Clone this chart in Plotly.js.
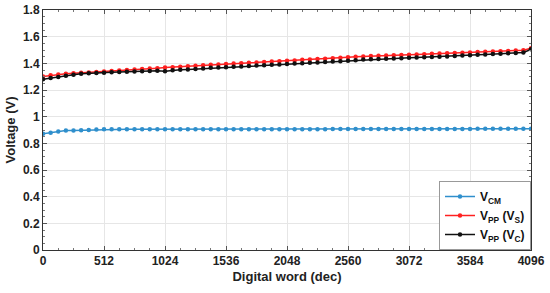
<!DOCTYPE html>
<html>
<head>
<meta charset="utf-8">
<script src="https://cdn.plot.ly/plotly-3.0.1.min.js"></script>
<style>
  html, body { margin: 0; padding: 0; background: #fff; }
  #chart { width: 550px; height: 293px; }
</style>
</head>
<body>
<div id="chart"></div>
<script>
// digital word, one point every 64 codes
var codes = [];
for (var i = 0; i <= 64; i++) codes.push(i * 64);

var vcm = [0.872, 0.880, 0.889, 0.897, 0.896, 0.898, 0.900, 0.903, 0.905, 0.905,
           0.906, 0.906, 0.906, 0.906, 0.906, 0.905, 0.905, 0.905, 0.905, 0.905,
           0.905, 0.905, 0.905, 0.905, 0.905, 0.905, 0.906, 0.906, 0.906, 0.906,
           0.906, 0.906, 0.906, 0.906, 0.906, 0.906, 0.906, 0.906, 0.907, 0.907,
           0.907, 0.907, 0.907, 0.907, 0.907, 0.907, 0.907, 0.907, 0.907, 0.908,
           0.908, 0.908, 0.908, 0.908, 0.908, 0.908, 0.908, 0.909, 0.909, 0.909,
           0.909, 0.909, 0.909, 0.909, 0.910];

var vppS = [1.302, 1.310, 1.316, 1.322, 1.326, 1.329, 1.332, 1.335, 1.338, 1.342,
            1.346, 1.350, 1.353, 1.357, 1.361, 1.364, 1.368, 1.371, 1.375, 1.379,
            1.382, 1.386, 1.389, 1.392, 1.395, 1.398, 1.401, 1.404, 1.407, 1.410,
            1.413, 1.416, 1.419, 1.422, 1.426, 1.429, 1.432, 1.435, 1.438, 1.442,
            1.445, 1.449, 1.452, 1.455, 1.457, 1.459, 1.461, 1.463, 1.465, 1.467,
            1.469, 1.471, 1.473, 1.476, 1.478, 1.480, 1.482, 1.485, 1.487, 1.489,
            1.491, 1.493, 1.496, 1.499, 1.514];

var vppC = [1.280, 1.290, 1.298, 1.306, 1.315, 1.322, 1.326, 1.328, 1.330, 1.333,
            1.335, 1.337, 1.339, 1.341, 1.343, 1.345, 1.340, 1.348, 1.351, 1.354,
            1.357, 1.362, 1.366, 1.368, 1.371, 1.374, 1.377, 1.380, 1.383, 1.386,
            1.389, 1.392, 1.395, 1.398, 1.401, 1.404, 1.407, 1.410, 1.413, 1.416,
            1.420, 1.424, 1.428, 1.431, 1.433, 1.435, 1.437, 1.439, 1.441, 1.443,
            1.445, 1.447, 1.449, 1.452, 1.455, 1.458, 1.461, 1.464, 1.467, 1.470,
            1.472, 1.475, 1.478, 1.481, 1.505];

var xTicks = [0, 512, 1024, 1536, 2048, 2560, 3072, 3584, 4096];

var font = "Liberation Sans, Arial, sans-serif";

function trace(y, name, color) {
  return {
    x: codes,
    y: y,
    name: name,
    type: "scatter",
    mode: "lines+markers",
    line: { color: color, width: 1.5 },
    marker: { color: color, size: 4.5 }
  };
}

var data = [
  trace(vcm, "V<sub>CM</sub>", "#2f8fcc"),
  trace(vppS, "V<sub>PP</sub> (V<sub>S</sub>)", "#ff2020"),
  trace(vppC, "V<sub>PP</sub> (V<sub>C</sub>)", "#111111")
];

var layout = {
  width: 550,
  height: 293,
  margin: { l: 43, r: 19, t: 10, b: 43 },
  paper_bgcolor: "#fff",
  plot_bgcolor: "#fff",
  font: { family: font, size: 12, color: "#222", weight: "bold" },
  showlegend: true,
  legend: {
    x: 1, y: 0, xanchor: "right", yanchor: "bottom",
    bgcolor: "#fff",
    bordercolor: "#999",
    borderwidth: 1,
    font: { family: font, size: 12, color: "#111", weight: "bold" },
    itemwidth: 30,
    tracegroupgap: 0
  },
  xaxis: {
    range: [0, 4096],
    tickvals: xTicks,
    ticktext: xTicks.map(String),
    showgrid: true,
    gridcolor: "#e6e6e6",
    zeroline: false,
    showline: true,
    linecolor: "#333",
    linewidth: 1,
    mirror: "ticks",
    ticks: "inside",
    ticklen: 4,
    tickcolor: "#555",
    minor: { dtick: 128, ticks: "inside", ticklen: 2, tickcolor: "#777", showgrid: false },
    tickfont: { family: font, size: 12, color: "#222", weight: "bold" },
    title: { text: "Digital word (dec)", font: { family: font, size: 13, color: "#222", weight: "bold" }, standoff: 4 }
  },
  yaxis: {
    range: [0, 1.8],
    dtick: 0.2,
    tickformat: ".1~f",
    showgrid: true,
    gridcolor: "#e6e6e6",
    zeroline: false,
    showline: true,
    linecolor: "#333",
    linewidth: 1,
    mirror: "ticks",
    ticks: "inside",
    ticklen: 4,
    tickcolor: "#555",
    minor: { dtick: 0.05, ticks: "inside", ticklen: 2, tickcolor: "#777", showgrid: false },
    tickfont: { family: font, size: 12, color: "#222", weight: "bold" },
    title: { text: "Voltage (V)", font: { family: font, size: 13, color: "#222", weight: "bold" }, standoff: 4 }
  }
};

var config = { displayModeBar: false, staticPlot: true };

Plotly.newPlot("chart", data, layout, config);
</script>
</body>
</html>
